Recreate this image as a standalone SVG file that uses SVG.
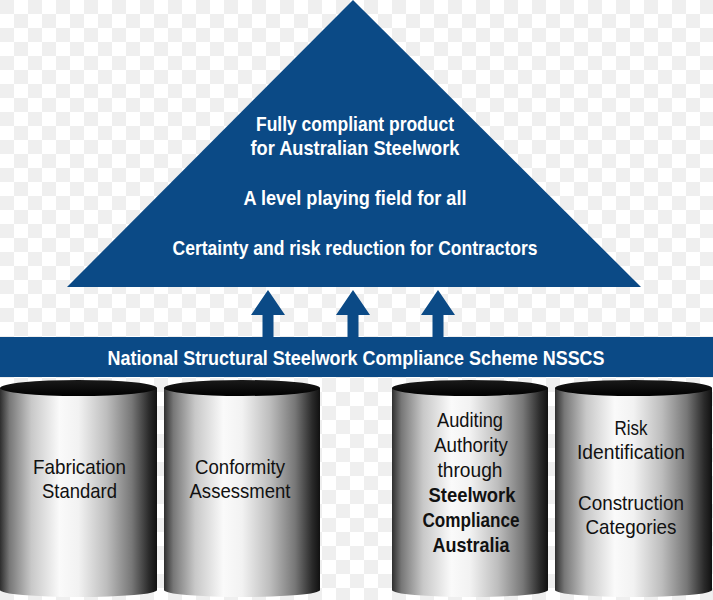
<svg xmlns="http://www.w3.org/2000/svg" width="713" height="600" viewBox="0 0 713 600">
<defs>
<pattern id="checker" width="28" height="28" patternUnits="userSpaceOnUse">
<rect width="28" height="28" fill="#ffffff"/>
<rect x="0" y="0" width="14" height="14" fill="#efefef"/>
<rect x="14" y="14" width="14" height="14" fill="#efefef"/>
</pattern>
<linearGradient id="cylBody" x1="0" y1="0" x2="1" y2="0">
<stop offset="0" stop-color="#2e2e2e"/>
<stop offset="0.06" stop-color="#777777"/>
<stop offset="0.2" stop-color="#c8c8c8"/>
<stop offset="0.38" stop-color="#fafafa"/>
<stop offset="0.5" stop-color="#f2f2f2"/>
<stop offset="0.68" stop-color="#bdbdbd"/>
<stop offset="0.84" stop-color="#777777"/>
<stop offset="0.95" stop-color="#2a2a2a"/>
<stop offset="1" stop-color="#111111"/>
</linearGradient>
<linearGradient id="cylTop" x1="0" y1="0" x2="0" y2="1">
<stop offset="0" stop-color="#1a1a1a"/>
<stop offset="1" stop-color="#000000"/>
</linearGradient>
</defs>
<style>
.blue{fill:#0b4a86}
.tri{font-family:"Liberation Sans",Arial,sans-serif;font-weight:bold;font-size:21px;fill:#ffffff;text-anchor:middle}
.ban{font-family:"Liberation Sans",Arial,sans-serif;font-weight:bold;font-size:21px;fill:#ffffff;text-anchor:middle}
.cyl{font-family:"Liberation Sans",Arial,sans-serif;font-size:21px;fill:#111111;text-anchor:middle}
.cylb{font-family:"Liberation Sans",Arial,sans-serif;font-weight:bold;font-size:21px;fill:#111111;text-anchor:middle}
.body{fill:url(#cylBody)}
.top{fill:url(#cylTop)}
</style>
<rect width="713" height="600" fill="url(#checker)"/>

<g id="pyramid">
<polygon class="blue" points="353,0 67,287 641,287"/>
<text class="tri" x="355" y="131" textLength="198" lengthAdjust="spacingAndGlyphs">Fully compliant product</text>
<text class="tri" x="355" y="155" textLength="209" lengthAdjust="spacingAndGlyphs">for Australian Steelwork</text>
<text class="tri" x="355" y="205" textLength="223" lengthAdjust="spacingAndGlyphs">A level playing field for all</text>
<text class="tri" x="355" y="255" textLength="365" lengthAdjust="spacingAndGlyphs">Certainty and risk reduction for Contractors</text>
</g>

<g id="connectors">
<polygon class="blue" points="268,290 285,315 273.5,315 273.5,338 262.5,338 262.5,315 251,315"/>
<polygon class="blue" points="353,290 370,315 358.5,315 358.5,338 347.5,338 347.5,315 336,315"/>
<polygon class="blue" points="438,290 455,315 443.5,315 443.5,338 432.5,338 432.5,315 421,315"/>
</g>

<g id="banner">
<rect class="blue" x="0" y="337" width="713" height="40"/>
<text class="ban" x="356" y="365" textLength="497" lengthAdjust="spacingAndGlyphs">National Structural Steelwork Compliance Scheme NSSCS</text>
</g>

<g id="cyl-fabrication">
<path class="body" d="M0,388 L0,590 A78.5,7 0 0 0 157,590 L157,388 Z"/>
<ellipse class="top" cx="78.5" cy="388" rx="78.5" ry="8"/>
<text class="cyl" x="79.5" y="474" textLength="93" lengthAdjust="spacingAndGlyphs">Fabrication</text>
<text class="cyl" x="79.5" y="498" textLength="75" lengthAdjust="spacingAndGlyphs">Standard</text>
</g>

<g id="cyl-conformity">
<path class="body" d="M164,388 L164,590 A78,7 0 0 0 320,590 L320,388 Z"/>
<ellipse class="top" cx="242" cy="388" rx="78" ry="8"/>
<text class="cyl" x="240" y="474" textLength="90" lengthAdjust="spacingAndGlyphs">Conformity</text>
<text class="cyl" x="240" y="498" textLength="101" lengthAdjust="spacingAndGlyphs">Assessment</text>
</g>

<g id="cyl-auditing">
<path class="body" d="M392,388 L392,590 A78,7 0 0 0 548,590 L548,388 Z"/>
<ellipse class="top" cx="470" cy="388" rx="78" ry="8"/>
<text class="cyl" x="470" y="427" textLength="66" lengthAdjust="spacingAndGlyphs">Auditing</text>
<text class="cyl" x="471" y="452" textLength="74" lengthAdjust="spacingAndGlyphs">Authority</text>
<text class="cyl" x="470" y="477" textLength="65" lengthAdjust="spacingAndGlyphs">through</text>
<text class="cylb" x="472" y="502" textLength="87" lengthAdjust="spacingAndGlyphs">Steelwork</text>
<text class="cylb" x="471" y="527" textLength="97" lengthAdjust="spacingAndGlyphs">Compliance</text>
<text class="cylb" x="471" y="552" textLength="77" lengthAdjust="spacingAndGlyphs">Australia</text>
</g>

<g id="cyl-risk">
<path class="body" d="M555,388 L555,590 A78.5,7 0 0 0 712,590 L712,388 Z"/>
<ellipse class="top" cx="633.5" cy="388" rx="78.5" ry="8"/>
<text class="cyl" x="631" y="435" textLength="33" lengthAdjust="spacingAndGlyphs">Risk</text>
<text class="cyl" x="631" y="459" textLength="108" lengthAdjust="spacingAndGlyphs">Identification</text>
<text class="cyl" x="631" y="510" textLength="106" lengthAdjust="spacingAndGlyphs">Construction</text>
<text class="cyl" x="631" y="534" textLength="91" lengthAdjust="spacingAndGlyphs">Categories</text>
</g>
</svg>
